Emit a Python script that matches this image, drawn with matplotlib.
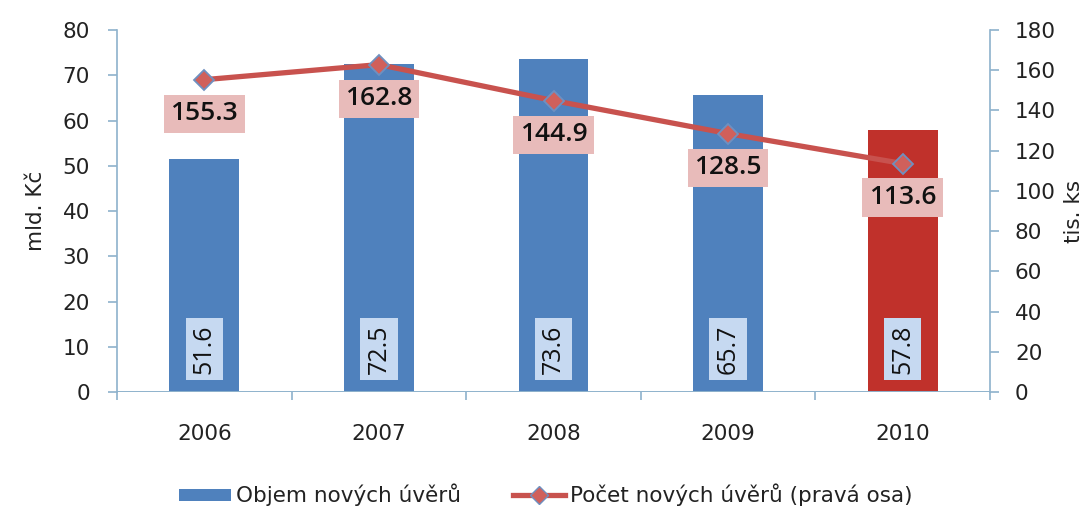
import matplotlib
matplotlib.use("Agg")
import matplotlib.pyplot as plt
from matplotlib.lines import Line2D
from matplotlib.patches import Patch
import numpy as np

plt.rcParams['font.family'] = ['DejaVu Sans']

years = ["2006", "2007", "2008", "2009", "2010"]
volume = [51.6, 72.5, 73.6, 65.7, 57.8]          # mld. Kč
count = [155.3, 162.8, 144.9, 128.5, 113.6]       # tis. ks
bar_colors = ["#4F81BD", "#4F81BD", "#4F81BD", "#4F81BD", "#C0312B"]
left_ticks = [0, 10, 20, 30, 40, 50, 60, 70, 80]
right_ticks = [0, 20, 40, 60, 80, 100, 120, 140, 160, 180]

AXC = "#8EB2CC"
TXT = "#222222"
LINEC = "#C8524E"

fig = plt.figure(figsize=(10.92, 5.09), dpi=100)
ax = fig.add_axes([117/1092, 1 - 392/509, (990-117)/1092, (392-30)/509])
ax2 = ax.twinx()

x = np.arange(len(years))
ax.bar(x, volume, width=0.4, color=bar_colors, zorder=2)
ax.set_xlim(-0.5, len(years) - 0.5)
ax.set_ylim(0, 80)
ax.set_yticks(left_ticks)
ax.set_xticks(x)
ax.set_xticklabels(years)
ax.set_xticks(np.arange(-0.5, len(years), 1.0), minor=True)
ax.tick_params(axis='x', which='major', length=0, pad=23, labelsize=15.5, labelcolor=TXT)
ax.tick_params(axis='x', which='minor', length=6, width=1.2, color=AXC, direction='out')
ax.tick_params(axis='y', length=6.5, width=1.2, color=AXC, direction='out', labelsize=15.5,
               labelcolor=TXT, pad=13)
ax.set_ylabel("mld. Kč", fontsize=15.5, color=TXT, labelpad=12)

for i, v in enumerate(volume):
    ax.text(x[i], 9.5, f"{v:.1f}", rotation=90, ha='center', va='center',
            fontsize=18, color="#111111", zorder=5, family='Open Sans',
            bbox=dict(boxstyle='square,pad=0.25', fc="#C6D9F1", ec='none'))

ax2.plot(x, count, color=LINEC, lw=3.8, marker='D', markersize=10,
         markerfacecolor="#D0605B", markeredgecolor="#6E90C0", markeredgewidth=1.3, zorder=3)
ax2.set_ylim(0, 180)
ax2.set_yticks(right_ticks)
ax2.tick_params(axis='y', length=6.5, width=1.2, color=AXC, direction='out', labelsize=15.5,
                labelcolor=TXT, pad=11.5)
ax2.set_ylabel("tis. ks", fontsize=15.5, color=TXT, labelpad=6)

for i, v in enumerate(count):
    ax2.annotate(f"{v:.1f}", (x[i], v), xytext=(0, -24.5), textcoords='offset points',
                 ha='center', va='center', fontsize=19, fontweight='semibold',
                 family='Open Sans', color="#111111",
                 bbox=dict(boxstyle='square,pad=0.25', fc="#E8BBBA", ec='none'), zorder=6)

for a in (ax, ax2):
    a.spines['top'].set_visible(False)
ax.spines['right'].set_visible(False)
ax2.spines['left'].set_visible(False)
ax.spines['bottom'].set_visible(False)
ax2.spines['bottom'].set_visible(False)
ax.spines['left'].set_color(AXC)
ax.spines['left'].set_linewidth(1.2)
ax2.spines['right'].set_color(AXC)
ax2.spines['right'].set_linewidth(1.2)
ax.set_zorder(ax2.get_zorder() - 1)
ax.patch.set_visible(False)
ax2.axhline(0, color=AXC, lw=1.4, zorder=4)

handles = [Patch(facecolor="#4F81BD", edgecolor='none'),
           Line2D([], [], color=LINEC, lw=3.8, marker='D', markersize=9,
                  markerfacecolor="#D0605B", markeredgecolor="#6E90C0")]
fig.legend(handles, ["Objem nových úvěrů", "Počet nových úvěrů (pravá osa)"],
           loc='center', bbox_to_anchor=(0.5, 1 - 495/509), ncol=2, frameon=False,
           fontsize=15.5, handlelength=2.4, handleheight=0.5, handletextpad=0.25,
           columnspacing=2.4, labelcolor=TXT)

fig.savefig("out.png", dpi=100)
